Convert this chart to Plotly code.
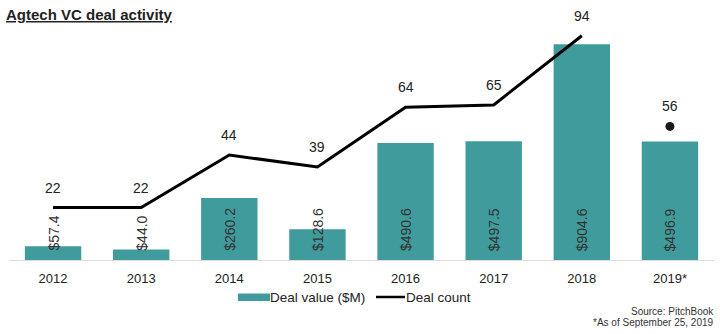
import plotly.graph_objects as go

years = ["2012", "2013", "2014", "2015", "2016", "2017", "2018", "2019*"]
deal_value = [57.4, 44.0, 260.2, 128.6, 490.6, 497.5, 904.6, 496.9]
deal_count = [22, 22, 44, 39, 64, 65, 94, 56]

TEAL = "#409c9c"
FONT = "Liberation Sans, Arial, sans-serif"

W, H = 720, 334
ML, MR, MT, MB = 9, 6, 20, 74
PW, PH = W - ML - MR, H - MT - MB


def px(x):
    return (x - ML) / PW


def py(y):
    return (H - MB - y) / PH


fig = go.Figure()

fig.add_trace(go.Bar(
    x=years, y=deal_value, name="Deal value ($M)",
    marker=dict(color=TEAL, line=dict(width=0)),
    width=0.64,
))

# full years joined by a line; partial 2019 shown as a lone dot
fig.add_trace(go.Scatter(
    x=years[:-1], y=deal_count[:-1], name="Deal count",
    mode="lines", line=dict(color="black", width=3),
    yaxis="y2",
))
fig.add_trace(go.Scatter(
    x=years[-1:], y=deal_count[-1:], mode="markers",
    marker=dict(color="#1a1a1a", size=9), yaxis="y2", showlegend=False,
))

# annotation x uses the category index so numeric-looking year names
# are not read as positions
annotations = []
for i, v in enumerate(deal_value):
    annotations.append(dict(
        x=i, y=0, xref="x", yref="y", text=f"${v:.1f}",
        textangle=-90, showarrow=False, yanchor="bottom", yshift=7,
        font=dict(family=FONT, size=14, color="#333333"),
    ))
for i, c in enumerate(deal_count):
    annotations.append(dict(
        x=i, y=c, xref="x", yref="y2", text=str(c),
        showarrow=False, yanchor="middle", yshift=20,
        font=dict(family=FONT, size=14, color="#222222"),
    ))
annotations += [
    dict(x=px(4), y=py(4), xref="paper", yref="paper", xanchor="left", yanchor="top",
         text="<b><u>Agtech VC deal activity</u></b>", showarrow=False,
         font=dict(family=FONT, size=15, color="#222222")),
    dict(x=px(716), y=py(311), xref="paper", yref="paper", xanchor="right", yanchor="middle",
         text="Source: PitchBook", showarrow=False,
         font=dict(family=FONT, size=10, color="#333333")),
    dict(x=px(716), y=py(322), xref="paper", yref="paper", xanchor="right", yanchor="middle",
         text="*As of September 25, 2019", showarrow=False,
         font=dict(family=FONT, size=10, color="#333333")),
    # legend labels
    dict(x=px(268), y=py(297), xref="paper", yref="paper", xanchor="left", yanchor="middle",
         text="Deal value ($M)", showarrow=False,
         font=dict(family=FONT, size=13.5, color="#222222")),
    dict(x=px(404), y=py(297), xref="paper", yref="paper", xanchor="left", yanchor="middle",
         text="Deal count", showarrow=False,
         font=dict(family=FONT, size=13.5, color="#222222")),
]

shapes = [
    dict(type="rect", xref="paper", yref="paper",
         x0=px(238), x1=px(270), y0=py(301), y1=py(293.5),
         fillcolor=TEAL, line=dict(width=0)),
    dict(type="line", xref="paper", yref="paper",
         x0=px(376), x1=px(405), y0=py(297), y1=py(297),
         line=dict(color="black", width=2.5)),
]

fig.update_layout(
    width=W, height=H,
    margin=dict(l=ML, r=MR, t=MT, b=MB),
    paper_bgcolor="white", plot_bgcolor="white",
    font=dict(family=FONT, color="#222222"),
    xaxis=dict(
        type="category", range=[-0.5, len(years) - 0.5], autorange=False,
        showgrid=False, showline=True, linecolor="#dddddd", linewidth=1,
        ticks="", ticklabelstandoff=6, tickfont=dict(size=13, color="#222222"),
    ),
    yaxis=dict(range=[0, 1006], visible=False, showgrid=False),
    yaxis2=dict(range=[0, 100.6], overlaying="y", visible=False, showgrid=False),
    showlegend=False,
    annotations=annotations,
    shapes=shapes,
)

fig.write_html("out.html")
